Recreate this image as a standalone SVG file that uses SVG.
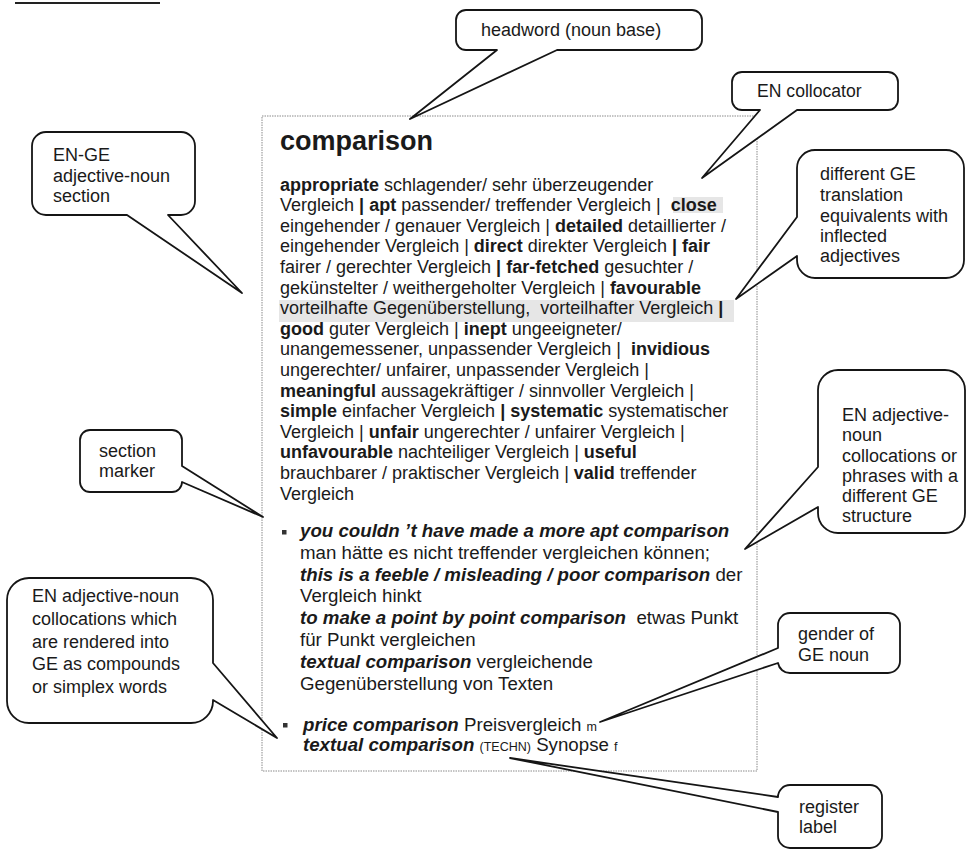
<svg xmlns="http://www.w3.org/2000/svg" width="968" height="850" viewBox="0 0 968 850">
<style>
.t{font-family:"Liberation Sans",Arial,sans-serif;font-size:18px;fill:#1a1a1a;white-space:pre}
.x{font-size:18.7px}
.b{font-weight:bold}
.bi{font-weight:bold;font-style:italic}
.sm{font-size:12.5px}
.bubble{fill:#fff;stroke:#151515;stroke-width:1.8;stroke-linejoin:round}
.hl{fill:#e6e6e6}
</style>
<rect width="968" height="850" fill="#fff"/>
<line x1="15" y1="3" x2="160" y2="3" stroke="#222" stroke-width="2"/>

<g id="entry">
  <rect x="262" y="116" width="495" height="655" fill="#fff" stroke="#8a8a8a" stroke-width="1" stroke-dasharray="1.5 1"/>
  <rect class="hl" x="673" y="197" width="50" height="16"/>
  <rect class="hl" x="279" y="300" width="455" height="22"/>
  <text class="t b" x="280" y="150" style="font-size:27px">comparison</text>
  <text class="t" x="280" y="190.5"><tspan class="b">appropriate</tspan> schlagender/ sehr überzeugender</text>
  <text class="t" x="280" y="211.1">Vergleich <tspan class="b">|</tspan> <tspan class="b">apt</tspan> passender/ treffender Vergleich |  <tspan class="b">close</tspan></text>
  <text class="t" x="280" y="231.7">eingehender / genauer Vergleich | <tspan class="b">detailed</tspan> detaillierter /</text>
  <text class="t" x="280" y="252.3">eingehender Vergleich | <tspan class="b">direct</tspan> direkter Vergleich <tspan class="b">| fair</tspan></text>
  <text class="t" x="280" y="272.9">fairer / gerechter Vergleich <tspan class="b">| far-fetched</tspan> gesuchter /</text>
  <text class="t" x="280" y="293.5">gekünstelter / weithergeholter Vergleich | <tspan class="b">favourable</tspan></text>
  <text class="t" x="280" y="314.1">vorteilhafte Gegenüberstellung,  vorteilhafter Vergleich <tspan class="b">|</tspan></text>
  <text class="t" x="280" y="334.7"><tspan class="b">good</tspan> guter Vergleich | <tspan class="b">inept</tspan> ungeeigneter/</text>
  <text class="t" x="280" y="355.3">unangemessener, unpassender Vergleich |  <tspan class="b">invidious</tspan></text>
  <text class="t" x="280" y="375.9">ungerechter/ unfairer, unpassender Vergleich |</text>
  <text class="t" x="280" y="396.5"><tspan class="b">meaningful</tspan> aussagekräftiger / sinnvoller Vergleich |</text>
  <text class="t" x="280" y="417.1"><tspan class="b">simple</tspan> einfacher Vergleich <tspan class="b">| systematic</tspan> systematischer</text>
  <text class="t" x="280" y="437.7">Vergleich | <tspan class="b">unfair</tspan> ungerechter / unfairer Vergleich |</text>
  <text class="t" x="280" y="458.3"><tspan class="b">unfavourable</tspan> nachteiliger Vergleich | <tspan class="b">useful</tspan></text>
  <text class="t" x="280" y="478.9">brauchbarer / praktischer Vergleich | <tspan class="b">valid</tspan> treffender</text>
  <text class="t" x="280" y="499.5">Vergleich</text>

  <rect x="282" y="530" width="4.5" height="4.5" fill="#333"/>
  <text class="t x" x="300" y="537"><tspan class="bi">you couldn ’t have made a more apt comparison</tspan></text>
  <text class="t x" x="300" y="558.8">man hätte es nicht treffender vergleichen können;</text>
  <text class="t x" x="300" y="580.6"><tspan class="bi">this is a feeble / misleading / poor comparison</tspan> der</text>
  <text class="t x" x="300" y="602.4">Vergleich hinkt</text>
  <text class="t x" x="300" y="624.2"><tspan class="bi">to make a point by point comparison</tspan>  etwas Punkt</text>
  <text class="t x" x="300" y="646">für Punkt vergleichen</text>
  <text class="t x" x="300" y="667.8"><tspan class="bi">textual comparison</tspan> vergleichende</text>
  <text class="t x" x="300" y="689.6">Gegenüberstellung von Texten</text>

  <rect x="283" y="723" width="4.5" height="4.5" fill="#333"/>
  <text class="t x" x="303" y="730.7"><tspan class="bi">price comparison</tspan> Preisvergleich <tspan class="sm">m</tspan></text>
  <text class="t x" x="303" y="750.7"><tspan class="bi">textual comparison</tspan> <tspan class="sm">(TECHN)</tspan> Synopse <tspan class="sm">f</tspan></text>
</g>

<g id="headword">
  <path class="bubble" d="M 466 10 H 692 A 10 10 0 0 1 702 20 V 40 A 10 10 0 0 1 692 50 H 557 L 410 119 L 497 50 H 466 A 10 10 0 0 1 456 40 V 20 A 10 10 0 0 1 466 10 Z"/>
  <text class="t" x="481" y="36">headword (noun base)</text>
</g>

<g id="en-collocator">
  <path class="bubble" d="M 742 72 H 888 A 10 10 0 0 1 898 82 V 100 A 10 10 0 0 1 888 110 H 797 L 702 178 L 760 110 H 742 A 10 10 0 0 1 732 100 V 82 A 10 10 0 0 1 742 72 Z"/>
  <text class="t" x="757" y="97" style="font-size:17.6px">EN collocator</text>
</g>

<g id="en-ge-section">
  <path class="bubble" d="M 46 132 H 181 A 14 14 0 0 1 195 146 V 201 A 14 14 0 0 1 181 215 H 168 L 242 293 L 127 215 H 46 A 14 14 0 0 1 32 201 V 146 A 14 14 0 0 1 46 132 Z"/>
  <text class="t" x="53" y="161">EN-GE</text>
  <text class="t" x="53" y="182">adjective-noun</text>
  <text class="t" x="53" y="202">section</text>
</g>

<g id="ge-equivalents">
  <path class="bubble" d="M 815 150 H 946 A 18 18 0 0 1 964 168 V 260 A 18 18 0 0 1 946 278 H 815 A 18 18 0 0 1 797 260 V 256 L 736 299 L 797 217 V 168 A 18 18 0 0 1 815 150 Z"/>
  <text class="t" x="820" y="180">different GE</text>
  <text class="t" x="820" y="201">translation</text>
  <text class="t" x="820" y="222">equivalents with</text>
  <text class="t" x="820" y="242">inflected</text>
  <text class="t" x="820" y="262">adjectives</text>
</g>

<g id="section-marker">
  <path class="bubble" d="M 90 430 H 172 A 10 10 0 0 1 182 440 V 466 L 263 517 L 182 482 A 10 10 0 0 1 172 492 H 90 A 10 10 0 0 1 80 482 V 440 A 10 10 0 0 1 90 430 Z"/>
  <text class="t" x="99" y="457">section</text>
  <text class="t" x="99" y="477">marker</text>
</g>

<g id="compounds">
  <path class="bubble" d="M 29 578 H 191 A 22 22 0 0 1 213 600 V 663 L 277 738 L 213 700 V 701 A 22 22 0 0 1 191 723 H 29 A 22 22 0 0 1 7 701 V 600 A 22 22 0 0 1 29 578 Z"/>
  <text class="t" x="32" y="602">EN adjective-noun</text>
  <text class="t" x="32" y="625">collocations which</text>
  <text class="t" x="32" y="648">are rendered into</text>
  <text class="t" x="32" y="670">GE as compounds</text>
  <text class="t" x="32" y="693">or simplex words</text>
</g>

<g id="different-structure">
  <path class="bubble" d="M 838 370 H 945 A 20 20 0 0 1 965 390 V 513 A 20 20 0 0 1 945 533 H 838 A 20 20 0 0 1 818 513 V 507 L 745 549 L 818 467 V 390 A 20 20 0 0 1 838 370 Z"/>
  <text class="t" x="842" y="421">EN adjective-</text>
  <text class="t" x="842" y="441">noun</text>
  <text class="t" x="842" y="461.5">collocations or</text>
  <text class="t" x="842" y="481.5">phrases with a</text>
  <text class="t" x="842" y="501.5">different GE</text>
  <text class="t" x="842" y="521.5">structure</text>
</g>

<g id="gender">
  <path class="bubble" d="M 790 613 H 888 A 12 12 0 0 1 900 625 V 661 A 12 12 0 0 1 888 673 H 790 A 12 12 0 0 1 778 663 L 600 722 L 778 648 V 625 A 12 12 0 0 1 790 613 Z"/>
  <text class="t" x="798" y="640">gender of</text>
  <text class="t" x="798" y="661">GE noun</text>
</g>

<g id="register">
  <path class="bubble" d="M 790 785 H 870 A 12 12 0 0 1 882 797 V 836 A 12 12 0 0 1 870 848 H 790 A 12 12 0 0 1 778 836 V 812 L 510 758 L 778 797 A 12 12 0 0 1 790 785 Z"/>
  <text class="t" x="799" y="813">register</text>
  <text class="t" x="799" y="833">label</text>
</g>

<g id="connectors"></g>
</svg>
